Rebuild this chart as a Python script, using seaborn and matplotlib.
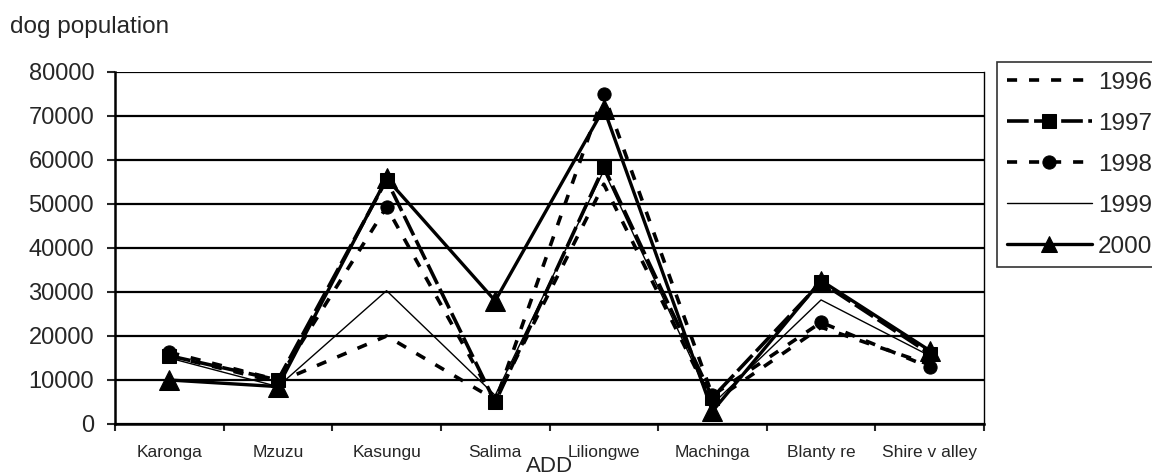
import pandas as pd
import matplotlib.pyplot as plt
import seaborn as sns

# dog population per ADD
districts = ['Karonga', 'Mzuzu', 'Kasungu', 'Salima', 'Liliongwe',
             'Machinga', 'Blanty re', 'Shire v alley']
pop_1996 = [15500, 9500, 20000, 5500, 54500, 5000, 22000, 13500]
pop_1997 = [15500, 10000, 55500, 4900, 58400, 6000, 32200, 16000]
pop_1998 = [16300, 10000, 49300, 5000, 75000, 6500, 23100, 12900]
pop_1999 = [15000, 8500, 30300, 6500, 57600, 4500, 28200, 15500]
pop_2000 = [10000, 8500, 55800, 28000, 71700, 2900, 32600, 16700]
years = ['1996', '1997', '1998', '1999', '2000']

df = pd.DataFrame({'ADD': districts, '1996': pop_1996, '1997': pop_1997,
                   '1998': pop_1998, '1999': pop_1999, '2000': pop_2000})
long_df = df.melt(id_vars='ADD', var_name='year', value_name='dogs')

sns.set_style('white')
plt.rcParams['font.family'] = ['Liberation Sans', 'DejaVu Sans']

# line style per year (dashes, width, marker)
styles = {
    '1996': dict(linestyle=(0, (2.8, 3.3)), linewidth=2.6, marker=None),
    '1997': dict(linestyle=(0, (6, 1.5)), linewidth=2.6, marker='s', markersize=9.5),
    '1998': dict(linestyle=(0, (2.8, 3.3)), linewidth=2.6, marker='o', markersize=9.5),
    '1999': dict(linestyle='-', linewidth=1.0, marker=None),
    '2000': dict(linestyle='-', linewidth=2.4, marker='^', markersize=15),
}

fig = plt.figure(figsize=(11.52, 4.76), dpi=100)
ax = fig.add_axes([115 / 1152, 1 - 424 / 476, (984 - 115) / 1152, (424 - 72) / 476])

for yr in years:
    sub = long_df[long_df['year'] == yr]
    sns.lineplot(data=sub, x='ADD', y='dogs', ax=ax, color='black',
                 markeredgecolor='black', sort=False, label=yr, **styles[yr])

ax.set_ylim(0, 80000)
ax.set_xlim(-0.5, len(districts) - 0.5)
ax.set_yticks(range(0, 80001, 10000))
ax.set_yticklabels([str(v) for v in range(0, 80001, 10000)], fontsize=17)
ax.yaxis.grid(True, color='black', linewidth=1.6)
ax.set_axisbelow(True)

# category labels between boundary ticks
ax.set_xticks([i - 0.5 for i in range(len(districts) + 1)])
ax.set_xticklabels([])
ax.set_xticks(range(len(districts)), minor=True)
ax.set_xticklabels(districts, minor=True, fontsize=12.5)
ax.tick_params(axis='x', which='minor', length=0, pad=15)
ax.tick_params(axis='x', which='major', length=5, width=1.5, direction='out', bottom=True)
ax.tick_params(axis='y', length=6, width=1.5, direction='out', left=True, pad=9)

for side in ['left', 'bottom']:
    ax.spines[side].set_color('black')
    ax.spines[side].set_linewidth(1.8)
ax.spines['top'].set_visible(False)
ax.spines['right'].set_color('black')
ax.spines['right'].set_linewidth(1.0)

ax.set_ylabel('')
ax.set_xlabel('ADD', fontsize=16)
ax.xaxis.label.set_va('baseline')
ax.xaxis.set_label_coords(0.5, -(472 - 424) / 352)
fig.text(10 / 1152, 1 - 33 / 476, 'dog population', fontsize=17.5, va='baseline')

h, l = ax.get_legend_handles_labels()
ax.get_legend().remove()
leg = fig.legend(h, l, loc='upper left', bbox_to_anchor=(997 / 1152, 1 - 62 / 476),
                 frameon=True, fancybox=False, fontsize=17.5, handlelength=3.5,
                 labelspacing=0.78, borderpad=0.4, handletextpad=0.25,
                 borderaxespad=0)
leg.get_frame().set_edgecolor('black')
leg.get_frame().set_linewidth(1.2)
for hd in leg.legend_handles:
    if hd.get_marker() == '^':
        hd.set_markersize(12)

plt.savefig('out.png', dpi=100)
